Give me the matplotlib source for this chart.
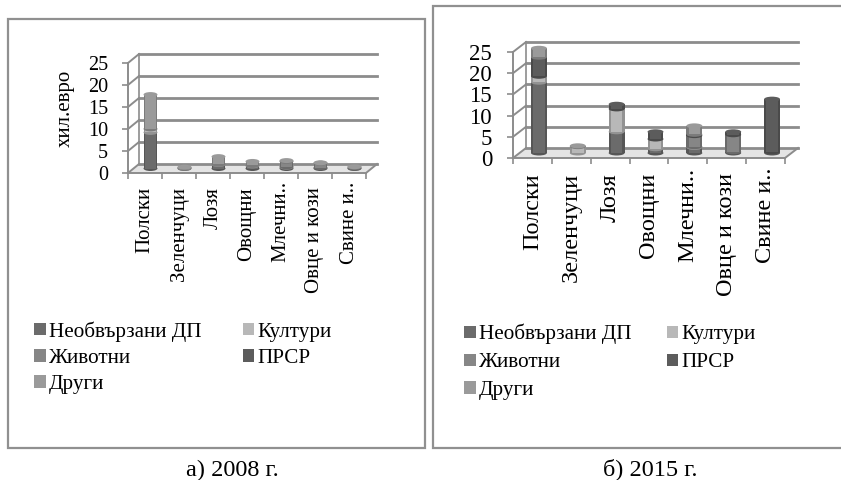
import matplotlib
matplotlib.use('Agg')
import matplotlib.pyplot as plt
from matplotlib.colors import to_rgb
from matplotlib.patches import Ellipse, Rectangle, Polygon, Patch
from matplotlib.transforms import Affine2D

W, H = 841, 480
plt.rcParams['font.family'] = ['Liberation Serif', 'DejaVu Serif']

categories = ['Полски', 'Зеленчуци', 'Лозя', 'Овощни', 'Млечни..', 'Овце и кози', 'Свине и..']
y_ticks = [0, 5, 10, 15, 20, 25]
series_names = ['Необвързани ДП', 'Култури', 'Животни', 'ПРСР', 'Други']
colors = ['#6b6b6b', '#b8b8b8', '#868686', '#5c5c5c', '#9a9a9a']

# 2008
ndp_2008 = [8.2, 0.1, 0.9, 0.6, 0.3, 0.2, 0.1]
kult_2008 = [0.8, 0.1, 0.1, 0.1, 0.1, 0.0, 0.0]
jiv_2008 = [0.0, 0.0, 0.0, 0.0, 1.2, 1.0, 0.2]
prsr_2008 = [0.0, 0.0, 0.0, 0.0, 0.0, 0.0, 0.0]
dr_2008 = [7.8, 0.1, 1.7, 0.9, 0.2, 0.1, 0.1]

# 2015
ndp_2015 = [16.7, 0.0, 5.0, 1.0, 1.3, 0.3, 0.3]
kult_2015 = [1.4, 1.5, 5.4, 2.3, 0.2, 0.0, 0.0]
jiv_2015 = [0.0, 0.0, 0.0, 0.0, 2.6, 4.0, 0.0]
prsr_2015 = [4.5, 0.0, 1.1, 1.7, 0.3, 0.7, 12.4]
dr_2015 = [2.1, 0.2, 0.0, 0.0, 2.0, 0.0, 0.0]

fig = plt.figure(figsize=(W / 100, H / 100), dpi=100)
grey = '#8c8c8c'


def px_rect(x0, y0, x1, y1):
    return [x0 / W, 1 - y1 / H, (x1 - x0) / W, (y1 - y0) / H]


def frame(x0, y0, x1, y1):
    fig.add_artist(Rectangle((x0 / W, 1 - y1 / H), (x1 - x0) / W, (y1 - y0) / H,
                             transform=fig.transFigure, fc='white', ec='#909090', lw=1.6, zorder=-1))


def darker(c, f=0.8):
    return tuple(v * f for v in to_rgb(c))


def panel(rect, dx, dy, stacks, tick_size, tick_pad, cat_size, pad):
    x0, y0, x1, y1 = rect
    ax = fig.add_axes(px_rect(x0, y0, x1, y1))
    ax.patch.set_alpha(0)
    ax.set_xlim(0, 7)
    ax.set_ylim(0, 25)
    for s in ['top', 'right']:
        ax.spines[s].set_visible(False)
    for s in ['left', 'bottom']:
        ax.spines[s].set_color(grey)
        ax.spines[s].set_linewidth(1.4)
    ax.set_yticks(y_ticks)
    ax.set_xticks(range(8))
    ax.set_xticklabels([])
    ax.set_xticks([i + 0.5 for i in range(7)], minor=True)
    ax.set_xticklabels(categories, minor=True, rotation=90, fontsize=cat_size, va='top', ha='center')
    ax.tick_params(axis='x', which='minor', length=0, pad=pad, colors='black')
    ax.tick_params(axis='x', which='major', length=4, width=1.2, color=grey)
    ax.tick_params(axis='y', length=4, width=1.2, color=grey, labelsize=tick_size, pad=tick_pad)
    # the cut off labels start higher, their dots reach the axis ticks
    minor = ax.xaxis.get_minor_ticks()
    minor[4].set_pad(pad - 4)
    minor[6].set_pad(pad - 4)

    back = ax.transData + Affine2D().translate(dx, dy)
    mid = ax.transData + Affine2D().translate(dx / 2, dy / 2)
    bx = dx / (x1 - x0) * 7
    by = dy / (y1 - y0) * 25

    # back wall grid and side wall
    ax.add_patch(Polygon([(0, 0), (7, 0), (7 + bx, by), (bx, by)],
                         fc='#e4e4e4', ec='none', zorder=0.5, clip_on=False))
    for v in y_ticks:
        ax.plot([0, 7], [v, v], transform=back, color=grey, lw=2, clip_on=False, zorder=1)
        ax.plot([0, bx], [v, v + by], color=grey, lw=1.4, clip_on=False, zorder=1)
    ax.plot([0, 0], [0, 25], transform=back, color=grey, lw=1.2, clip_on=False, zorder=1)
    ax.plot([7, 7 + bx], [0, by], color=grey, lw=1.4, clip_on=False, zorder=1)

    # stacked cylinders
    ell_h = 5 / (y1 - y0) * 25
    xs = [i + 0.5 for i in range(7)]
    z = 3
    for i, x in enumerate(xs):
        bottom = 0
        top_c = None
        for vals, c in zip(stacks, colors):
            v = vals[i]
            if v <= 0:
                continue
            ax.add_patch(Ellipse((x, bottom), 0.41, ell_h, transform=mid, fc=darker(c), ec='none',
                                 zorder=z, clip_on=False))
            ax.bar(x, v, 0.41, bottom=bottom, color=darker(c), transform=mid, zorder=z, clip_on=False)
            ax.bar(x, v, 0.3, bottom=bottom, color=c, transform=mid, zorder=z + 0.1, clip_on=False)
            bottom += v
            top_c = c
            z += 1
        if top_c is not None:
            ax.add_patch(Ellipse((x, bottom), 0.41, ell_h, transform=mid, fc=top_c, ec='none',
                                 zorder=z + 1, clip_on=False))
        z += 2
    return ax


frame(8, 19, 425, 448)
frame(433, 6, 850, 448)

ax_a = panel((128, 63, 366, 173), 11, 9, [ndp_2008, kult_2008, jiv_2008, prsr_2008, dr_2008], 14.5, 10.4, 15, 10)
ax_b = panel((513, 52, 785, 158), 13, 10, [ndp_2015, kult_2015, jiv_2015, prsr_2015, dr_2015], 16.5, 11, 17.5, 10.8)

fig.text(65 / W, 1 - 108 / H, 'хил.евро', rotation=90, fontsize=15, ha='center', va='center')
fig.text(232 / W, 1 - 470 / H, 'а) 2008 г.', fontsize=17.5, ha='center', va='center')
fig.text(650 / W, 1 - 469 / H, 'б) 2015 г.', fontsize=17.5, ha='center', va='center')

# excel fills legend by rows, matplotlib by columns
order = [0, 2, 4, 1, 3]
handles = [Patch(fc=colors[i], ec='none', label=series_names[i]) for i in order]
fig.legend(handles=handles, ncols=2, loc='upper left', bbox_to_anchor=(34 / W, 1 - 321 / H),
           frameon=False, fontsize=15.2, handlelength=0.55, handleheight=0.55, handletextpad=0.16,
           columnspacing=1.95, labelspacing=0.35, borderpad=0, borderaxespad=0)
fig.legend(handles=handles, ncols=2, loc='upper left', bbox_to_anchor=(464 / W, 1 - 324 / H),
           frameon=False, fontsize=15.2, handlelength=0.55, handleheight=0.55, handletextpad=0.16,
           columnspacing=1.67, labelspacing=0.42, borderpad=0, borderaxespad=0)

fig.savefig('out.png', dpi=100)
